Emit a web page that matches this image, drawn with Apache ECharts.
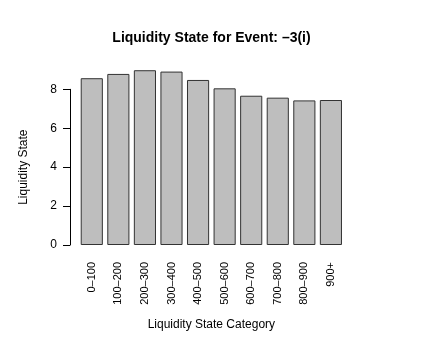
<!DOCTYPE html>
<html>
<head>
<meta charset="utf-8">
<script src="https://cdn.jsdelivr.net/npm/echarts@6/dist/echarts.min.js"></script>
<style>
  html, body { margin: 0; padding: 0; background: #fff; }
  #chart { width: 423px; height: 353px; }
</style>
</head>
<body>
<div id="chart"></div>
<script>
const categories = ['0–100', '100–200', '200–300', '300–400', '400–500', '500–600', '600–700', '700–800', '800–900', '900+'];
const liquidity = [8.57, 8.79, 8.98, 8.91, 8.48, 8.05, 7.67, 7.57, 7.43, 7.45];
const yTicks = [0, 2, 4, 6, 8];

const font = '"Liberation Sans", Arial, sans-serif';
const chart = echarts.init(document.getElementById('chart'));
chart.setOption({
    animation: false,
    title: {
        text: 'Liquidity State for Event: –3(i)',
        left: 'center',
        top: 26,
        textStyle: { fontFamily: font, fontSize: 14, fontWeight: 'bold', color: '#000' }
    },
    grid: { left: 78.5, right: 78.8, top: 89.3, bottom: 108 },
    xAxis: {
        type: 'category',
        data: categories,
        name: 'Liquidity State Category',
        nameLocation: 'middle',
        nameGap: 74,
        nameTextStyle: { fontFamily: font, fontSize: 12, color: '#000' },
        axisLine: { show: false },
        axisTick: { show: false },
        axisLabel: { rotate: 90, margin: 17, fontFamily: font, fontSize: 11, color: '#000', interval: 0 }
    },
    yAxis: {
        type: 'value',
        min: yTicks[0],
        max: yTicks[yTicks.length - 1],
        interval: 2,
        offset: 8.5,
        name: 'Liquidity State',
        nameLocation: 'middle',
        nameGap: 40,
        nameTextStyle: { fontFamily: font, fontSize: 12, color: '#000' },
        axisLine: { show: true, lineStyle: { color: '#000', width: 1 } },
        axisTick: { show: true, length: 7, lineStyle: { color: '#000' } },
        axisLabel: { margin: 13, fontFamily: font, fontSize: 12, color: '#000' },
        splitLine: { show: false }
    },
    series: [{
        type: 'bar',
        data: liquidity,
        clip: false,
        barCategoryGap: '16.7%',
        itemStyle: { color: '#bebebe', borderColor: '#333', borderWidth: 1 }
    }]
});
</script>
</body>
</html>
